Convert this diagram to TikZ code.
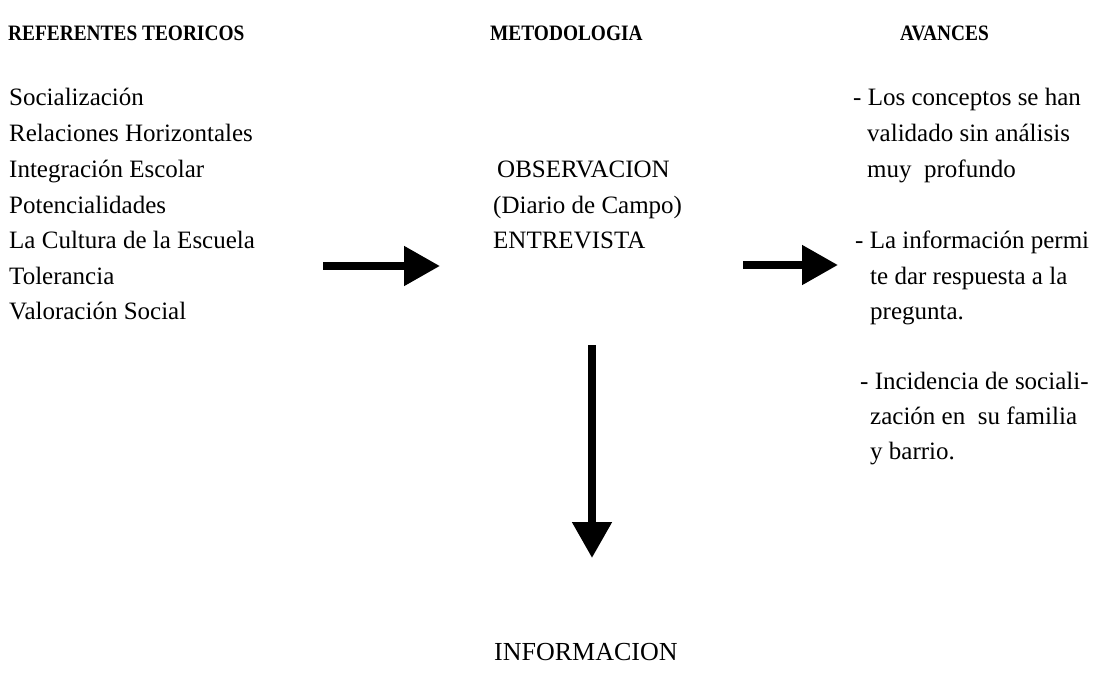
\documentclass[tikz,border=0pt]{standalone}
\usepackage{fontspec}
\setmainfont{Liberation Serif}
\usetikzlibrary{arrows.meta}
\newcommand{\hdrtext}[1]{\scalebox{0.88}[1]{#1}}
\begin{document}
\begin{tikzpicture}[x=1pt,y=-1pt,
  txt/.style={anchor=base west, inner sep=0pt, font=\fontsize{25}{29}\selectfont},
  hdr/.style={anchor=base west, inner sep=0pt, font=\bfseries\fontsize{22}{26}\selectfont},
  big/.style={anchor=base west, inner sep=0pt, font=\fontsize{26}{30}\selectfont},
  bigarrow/.style={line width=8pt, -{Triangle[length=36pt,width=38pt]}}]
\useasboundingbox (0,0) rectangle (1113,694);
% headers
\node[hdr] (h1) at (8,40) {\hdrtext{REFERENTES TEORICOS}};
\node[hdr] (h2) at (490,40) {\hdrtext{METODOLOGIA}};
\node[hdr] (h3) at (900,40) {\hdrtext{AVANCES}};
% left column
\node[txt] (l1) at (9,105) {Socialización};
\node[txt] (l2) at (9,141) {Relaciones Horizontales};
\node[txt] (l3) at (9,177) {Integración Escolar};
\node[txt] (l4) at (9,213) {Potencialidades};
\node[txt] (l5) at (9,248) {La Cultura de la Escuela};
\node[txt] (l6) at (9,284) {Tolerancia};
\node[txt] (l7) at (9,319) {Valoración Social};
% middle column
\node[txt] (m1) at (497,177) {OBSERVACION};
\node[txt] (m2) at (493,213) {(Diario de Campo)};
\node[txt] (m3) at (493,248) {ENTREVISTA};
% right column
\node[txt] (r1) at (853,105) {- Los conceptos se han};
\node[txt] (r2) at (867,141) {validado sin análisis};
\node[txt] (r3) at (867,177) {muy\ \ profundo};
\node[txt] (r4) at (855,248) {- La información permi};
\node[txt] (r5) at (870,284) {te dar respuesta a la};
\node[txt] (r6) at (870,319) {pregunta.};
\node[txt] (r7) at (860,389) {- Incidencia de sociali-};
\node[txt] (r8) at (870,424) {zación en\ \ su familia};
\node[txt] (r9) at (870,459) {y barrio.};
% bottom
\node[big] (info) at (494,660) {INFORMACION};
% arrows
\coordinate (a1s) at (323,266);
\coordinate (a1e) at (440,266);
\coordinate (a2s) at (743,265);
\coordinate (a2e) at (838,265);
\coordinate (a3s) at (592,345);
\coordinate (a3e) at (592,558);
\draw[bigarrow] (a1s) -- (a1e);
\draw[bigarrow] (a2s) -- (a2e);
\draw[bigarrow] (a3s) -- (a3e);
\end{tikzpicture}
\end{document}
